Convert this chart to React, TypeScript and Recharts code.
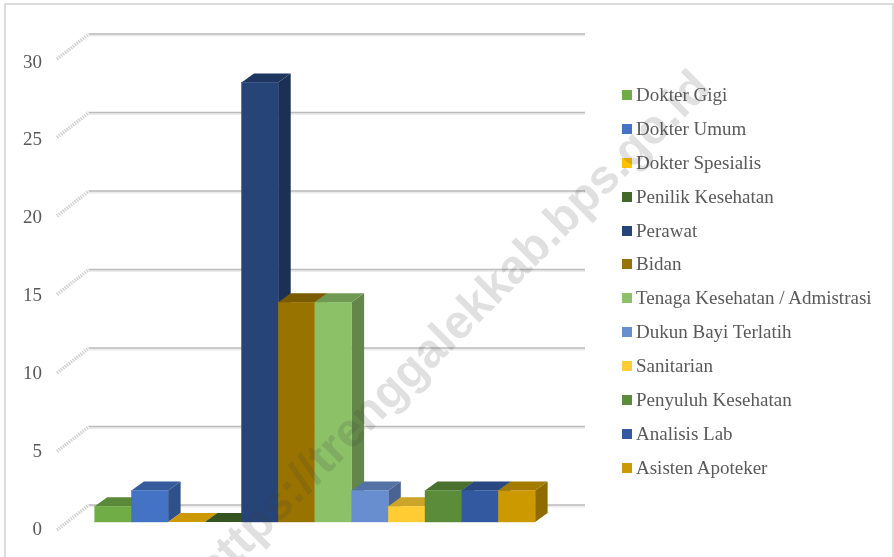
import React from "react";
import { BarChart, Bar, XAxis, YAxis, CartesianGrid, Legend } from "recharts";

const categories = ["Jumlah"];
const seriesNames = [
  "Dokter Gigi",
  "Dokter Umum",
  "Dokter Spesialis",
  "Penilik Kesehatan",
  "Perawat",
  "Bidan",
  "Tenaga Kesehatan / Admistrasi",
  "Dukun Bayi Terlatih",
  "Sanitarian",
  "Penyuluh Kesehatan",
  "Analisis Lab",
  "Asisten Apoteker",
];
const seriesValues = [1, 2, 0, 0, 28, 14, 14, 2, 1, 2, 2, 2];
const seriesColors = [
  "#70AD47",
  "#4472C4",
  "#FFC000",
  "#43682B",
  "#264478",
  "#997300",
  "#8CC168",
  "#698ED0",
  "#FFCD33",
  "#5B8C39",
  "#335AA1",
  "#CC9A00",
];
const yTicks = [0, 5, 10, 15, 20, 25, 30];

const data = categories.map((name) => {
  const row: Record<string, any> = { name };
  seriesNames.forEach((s, i) => (row[s] = seriesValues[i]));
  return row;
});

const FONT = '"Liberation Serif", "Times New Roman", serif';
const BASE_Y = 522;
const DEPTH_X = 12.5;
const DEPTH_Y = 9;

const shade = (hex: string, k: number) => {
  const n = parseInt(hex.slice(1), 16);
  const c = [(n >> 16) & 255, (n >> 8) & 255, n & 255].map((v) => Math.round(v * k));
  return `rgb(${c[0]},${c[1]},${c[2]})`;
};

// front face plus the top and right faces of the excel style 3d column
const Box = (props: any) => {
  const { x, y, width, height, fill } = props;
  const r = x + width;
  const b = y + height;
  return (
    <g>
      <polygon
        points={`${r},${y} ${r + DEPTH_X},${y - DEPTH_Y} ${r + DEPTH_X},${b - DEPTH_Y} ${r},${b}`}
        fill={shade(fill, 0.7)}
      />
      <polygon
        points={`${x},${y} ${x + DEPTH_X},${y - DEPTH_Y} ${r + DEPTH_X},${y - DEPTH_Y} ${r},${y}`}
        fill={shade(fill, 0.8)}
      />
      <rect x={x} y={y} width={width} height={height} fill={fill} stroke={fill} strokeWidth={0.4} />
    </g>
  );
};

const WallLine = (props: any) => {
  const y = props.y1;
  const wy = y - 17;
  return (
    <g key={props.key}>
      <line x1={57} y1={y + 8} x2={89} y2={wy} stroke="#d2d2d2" strokeWidth={3.5} strokeDasharray="1.5 1" />
      <line x1={89} y1={wy + 1} x2={585} y2={wy + 1} stroke="#ececec" strokeWidth={3} />
      <line x1={89} y1={wy} x2={585} y2={wy} stroke="#bdbdbd" strokeWidth={1.4} />
    </g>
  );
};

const YTick = (props: any) => {
  const { y, payload } = props;
  const labelY = y + 6 + (BASE_Y - y) * 0.0085;
  return (
    <text
      x={42}
      y={labelY}
      textAnchor="end"
      dominantBaseline="central"
      fontFamily={FONT}
      fontSize={19}
      fill="#595959"
    >
      {payload.value}
    </text>
  );
};

const LegendList = ({ payload }: any) => (
  <div style={{ fontFamily: FONT, fontSize: 19, color: "#595959" }}>
    {(payload || []).map((entry: any) => (
      <div
        key={entry.value}
        style={{ display: "flex", alignItems: "center", height: 33.9, whiteSpace: "nowrap" }}
      >
        <span style={{ width: 10, height: 10, background: entry.color, marginRight: 4 }} />
        {entry.value}
      </div>
    ))}
  </div>
);

export default function App() {
  return (
    <div
      style={{
        position: "absolute",
        left: 0,
        top: 0,
        width: 894,
        height: 557,
        overflow: "hidden",
        background: "#fff",
      }}
    >
      <div
        style={{
          position: "absolute",
          left: 4,
          top: 3,
          width: 886,
          height: 600,
          border: "2px solid #dcdcdc",
        }}
      />
      <div style={{ position: "absolute", left: 0, top: 0, filter: "blur(0.4px)" }}>
        <BarChart
          width={894}
          height={557}
          data={data}
          barGap={0}
          barCategoryGap={0}
          margin={{ top: 51, right: 88.3, bottom: 35, left: 0 }}
        >
          <CartesianGrid vertical={false} horizontal={WallLine} />
          <XAxis
            dataKey="name"
            height={0}
            tick={false}
            tickLine={false}
            axisLine={{ stroke: "#bdbdbd", strokeWidth: 1.5 }}
          />
          <YAxis
            width={94.7}
            domain={[0, 30]}
            ticks={yTicks}
            axisLine={false}
            tickLine={false}
            tick={YTick}
          />
          <Legend
            layout="vertical"
            align="right"
            verticalAlign="top"
            itemSorter={null}
            wrapperStyle={{ left: 622, top: 78, right: "auto", width: 270 }}
            content={LegendList}
          />
          {seriesNames.map((s, i) => (
            <Bar
              key={s}
              dataKey={s}
              fill={seriesColors[i]}
              barSize={36.7}
              shape={Box}
              isAnimationActive={false}
            />
          ))}
        </BarChart>
      </div>
      <svg
        width={894}
        height={557}
        style={{ position: "absolute", left: 0, top: 0, pointerEvents: "none", filter: "blur(0.5px)" }}
      >
        <text
          transform="translate(214 588) rotate(-45)"
          fontFamily='"Liberation Sans", Arial, sans-serif'
          fontWeight="bold"
          fontSize={47.5}
          fill="rgba(60,60,60,0.16)"
        >
          https://trenggalekkab.bps.go.id
        </text>
      </svg>
    </div>
  );
}
